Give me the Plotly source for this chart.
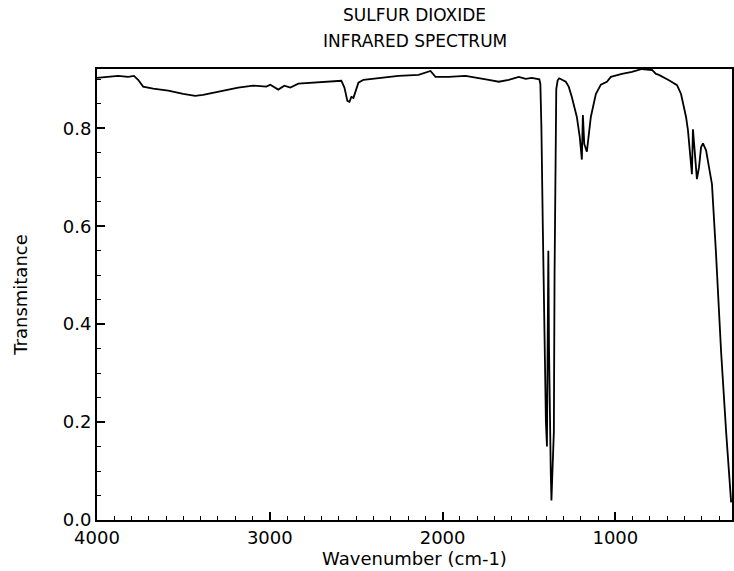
import plotly.graph_objects as go

# Wavenumber (cm-1) and transmittance
wavenumber = [
    4000, 3936, 3878, 3820, 3786, 3762, 3733, 3675, 3588, 3501, 3432, 3386, 3328,
    3270, 3183, 3096, 3020, 2997, 2951, 2916, 2881, 2835, 2748, 2661, 2586, 2568,
    2551, 2539, 2528, 2516, 2504, 2487, 2458, 2354, 2255, 2139, 2070, 2041, 1965,
    1867, 1791, 1733, 1675, 1617, 1559, 1519, 1484, 1455, 1440, 1434, 1428, 1420,
    1410, 1402, 1396, 1391, 1388, 1384, 1378, 1374, 1370, 1366, 1362, 1356, 1352,
    1347, 1342, 1334, 1325, 1287, 1270, 1252, 1223, 1206, 1194, 1188, 1180, 1165,
    1154, 1142, 1113, 1084, 1049, 1026, 962, 904, 846, 817, 788, 765, 748, 690,
    643, 620, 603, 591, 580, 568, 557, 551, 539, 528, 516, 504, 493, 475, 458,
    441, 418, 388, 359, 330,
]
transmittance = [
    0.903, 0.905, 0.907, 0.905, 0.907, 0.899, 0.885, 0.881, 0.877, 0.870, 0.866,
    0.868, 0.872, 0.877, 0.883, 0.887, 0.885, 0.889, 0.879, 0.887, 0.883, 0.891,
    0.893, 0.895, 0.897, 0.883, 0.856, 0.854, 0.864, 0.862, 0.877, 0.893, 0.899,
    0.903, 0.907, 0.909, 0.917, 0.905, 0.905, 0.907, 0.903, 0.899, 0.895, 0.899,
    0.905, 0.901, 0.903, 0.901, 0.900, 0.890, 0.800, 0.600, 0.350, 0.200, 0.150,
    0.400, 0.550, 0.350, 0.150, 0.100, 0.040, 0.090, 0.120, 0.180, 0.500, 0.800,
    0.880, 0.898, 0.902, 0.895, 0.885, 0.864, 0.823, 0.782, 0.736, 0.827, 0.768,
    0.752, 0.793, 0.823, 0.870, 0.889, 0.895, 0.905, 0.911, 0.915, 0.921, 0.920,
    0.919, 0.911, 0.909, 0.898, 0.888, 0.870, 0.843, 0.823, 0.796, 0.755, 0.706,
    0.798, 0.741, 0.696, 0.720, 0.761, 0.769, 0.755, 0.720, 0.686, 0.547, 0.343,
    0.180, 0.036,
]

title_lines = ["SULFUR DIOXIDE", "INFRARED SPECTRUM"]
x_title = "Wavenumber (cm-1)"
y_title = "Transmitance"

font_family = "DejaVu Sans"

W, H = 734, 571
ML, MR, MT, MB = 97, 2, 69, 51
plot_h = H - MT - MB

fig = go.Figure()
fig.add_trace(go.Scatter(
    x=wavenumber, y=transmittance, mode="lines",
    line=dict(color="black", width=1.8),
    showlegend=False, hoverinfo="x+y",
))

# Two-line title as annotations (pixel centres 15 and 41 from the figure top)
for line_text, py in zip(title_lines, [15, 41]):
    fig.add_annotation(
        text=line_text, xref="paper", yref="paper",
        x=0.5, y=(H - MB - py) / plot_h, xanchor="center", yanchor="middle",
        showarrow=False, font=dict(family=font_family, size=17, color="black"),
    )

fig.update_layout(
    width=W, height=H,
    margin=dict(l=ML, r=MR, t=MT, b=MB, autoexpand=False),
    paper_bgcolor="white", plot_bgcolor="white",
    font=dict(family=font_family, size=18, color="black"),
)

fig.update_xaxes(
    range=[4000, 325], autorange=False, automargin=False,
    tickmode="linear", tick0=0, dtick=1000,
    ticks="inside", ticklen=8, tickwidth=1.5, tickcolor="black",
    minor=dict(dtick=100, tick0=0, ticks="inside", ticklen=4, tickwidth=1.2, tickcolor="black"),
    showline=True, linecolor="black", linewidth=2, mirror=True,
    showgrid=False, zeroline=False,
    title=dict(text=x_title, standoff=2, font=dict(size=18)),
    tickfont=dict(size=18),
)
fig.update_yaxes(
    range=[0, 0.921], autorange=False, automargin=False,
    tickmode="linear", tick0=0, dtick=0.2, tickformat=".1f",
    ticks="inside", ticklen=8, tickwidth=1.5, tickcolor="black",
    minor=dict(dtick=0.05, tick0=0, ticks="inside", ticklen=4, tickwidth=1.2, tickcolor="black"),
    showline=True, linecolor="black", linewidth=2, mirror=True,
    showgrid=False, zeroline=False,
    title=dict(text=y_title, standoff=30, font=dict(size=18)),
    tickfont=dict(size=18),
)

# Remove the browser's default 8px body margin so the 734x571 figure fits the window exactly
fig.write_html(
    "out.html",
    config={"displayModeBar": False},
    post_script="document.body.style.margin='0';document.body.style.overflow='hidden';",
)
